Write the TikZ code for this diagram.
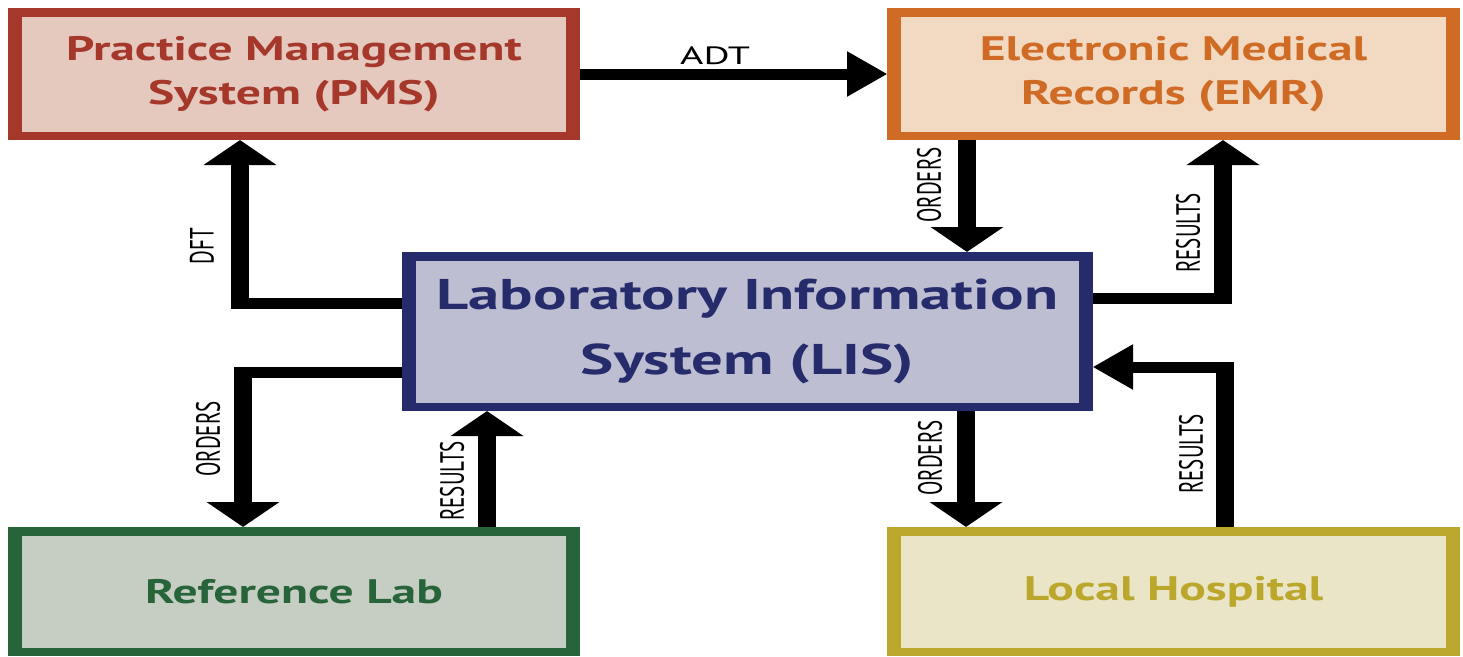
\documentclass[tikz,border=0pt]{standalone}
\usepackage{fontspec}
\setmainfont{PT Sans}
\newfontfamily\boxfont[FakeStretch=0.91]{PT Sans}
\usetikzlibrary{arrows.meta}
\definecolor{pmsred}{HTML}{A5372B}
\definecolor{pmsfill}{HTML}{E5C9BE}
\definecolor{emrorange}{HTML}{CF6B25}
\definecolor{emrfill}{HTML}{F1D9C2}
\definecolor{lisnavy}{HTML}{262B6B}
\definecolor{lisfill}{HTML}{BEBED3}
\definecolor{refgreen}{HTML}{28643A}
\definecolor{reffill}{HTML}{C6CEC3}
\definecolor{hospolive}{HTML}{BBA72B}
\definecolor{hospfill}{HTML}{EBE5C8}

\begin{document}
\begin{tikzpicture}[x=1pt,y=-1pt]
			\useasboundingbox (0,0) rectangle (1463,656);
			\begin{scope}[x=0.625pt, y=-1pt, transform canvas={xscale=1.6},
				sysbox/.style={draw=#1, text=#1, line width=8.5pt, align=center, inner sep=0pt,
					font=\boxfont\bfseries\fontsize{34}{44}\selectfont},
				flow/.style={line width=11pt, -{Triangle[length=25pt,width=44pt]}},
				flowlabel/.style={inner sep=0pt, font=\fontsize{21}{21}\selectfont}]
			\node [sysbox=pmsred, fill=pmsfill, minimum width=349pt, minimum height=123.5pt] (pms) at (294,74)
				{Practice Management\\System (PMS)};
			\node [sysbox=emrorange, fill=emrfill, minimum width=349.6pt, minimum height=123.5pt] (emr) at (1173.5,74)
				{Electronic Medical\\Records (EMR)};
			\node [sysbox=lisnavy, fill=lisfill, minimum width=423.4pt, minimum height=150.5pt,
				font=\boxfont\bfseries\fontsize{43}{65}\selectfont] (lis) at (747.5,331.5)
				{Laboratory Information\\System (LIS)};
			\node [sysbox=refgreen, fill=reffill, minimum width=349pt, minimum height=120.5pt] (ref) at (294,591.5)
				{Reference Lab};
			\node [sysbox=hospolive, fill=hospfill, minimum width=349.6pt, minimum height=120.5pt] (hosp) at (1173.5,591.5)
				{Local Hospital};
			\coordinate (dft) at (240,303);
			\coordinate (eo) at (967,0);
			\coordinate (er) at (1223,298);
			\coordinate (ro) at (243,372);
			\coordinate (rr) at (487,0);
			\coordinate (ho) at (966,0);
			\coordinate (hr) at (1225,367);
			\draw [flow] (pms.east) -- node [flowlabel, above=4pt, pos=0.44, font=\fontsize{25}{25}\selectfont] (adt) {ADT} (emr.west);
			\draw [flow] (lis.west |- dft) -- (dft) -- (pms.south -| dft);
			\draw [flow] (emr.south -| eo) -- (lis.north -| eo);
			\draw [flow] (lis.east |- er) -- (er) -- (emr.south -| er);
			\draw [flow] (lis.west |- ro) -- (ro) -- (ref.north -| ro);
			\draw [flow] (ref.north -| rr) -- (lis.south -| rr);
			\draw [flow] (lis.south -| ho) -- (hosp.north -| ho);
			\draw [flow] (hosp.north -| hr) -- (hr) -- (lis.east |- hr);
			\node [flowlabel, rotate=90] (dftlabel) at (202,246) {DFT};
			\node [flowlabel, rotate=90] (eolabel) at (929,185) {ORDERS};
			\node [flowlabel, rotate=90] (erlabel) at (1188,233) {RESULTS};
			\node [flowlabel, rotate=90] (rolabel) at (208,439) {ORDERS};
			\node [flowlabel, rotate=90] (rrlabel) at (452,481) {RESULTS};
			\node [flowlabel, rotate=90] (holabel) at (930,458) {ORDERS};
			\node [flowlabel, rotate=90] (hrlabel) at (1191,454) {RESULTS};
			\end{scope}
		\end{tikzpicture}
\end{document}
